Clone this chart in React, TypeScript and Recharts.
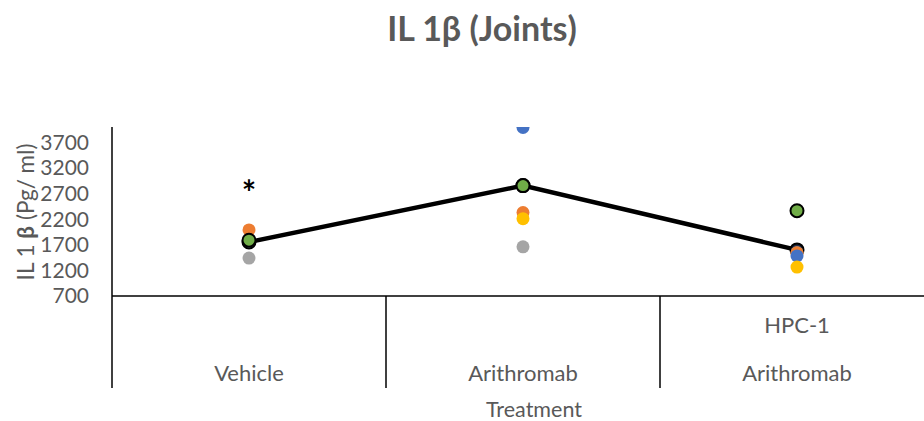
import { ComposedChart, Line, XAxis, YAxis } from 'recharts'

const categories = ['Vehicle', 'Arithromab', 'HPC-1 Arithromab']
const categoryLines = [['Vehicle'], ['Arithromab'], ['HPC-1', 'Arithromab']]

// group mean (black line) and the individual animals
const meanValues = [1755, 2856, 1600]
const grayValues = [1440, 1660, 1545]
const orangeValues = [1990, 2330, 1545]
const blueValues = [1775, 3990, 1482]
const yellowValues = [1780, 2210, 1265]
const greenValues = [1790, 2856, 2366]
// significance mark
const starValues = [2840, null, null]

const yTicks = [700, 1200, 1700, 2200, 2700, 3200, 3700]

const data = categories.map((cat, i) => ({
  cat,
  mean: meanValues[i],
  gray: grayValues[i],
  orange: orangeValues[i],
  blue: blueValues[i],
  yellow: yellowValues[i],
  green: greenValues[i],
  star: starValues[i],
}))

const FONT = 'Lato, "Liberation Sans", sans-serif'
const TEXT = '#595959'
const CHART_W = 934
const PLOT_LEFT = 112
const bandWidth = (CHART_W - PLOT_LEFT) / categories.length

const CategoryTick = (props: any) => {
  const { x, y, index } = props
  const lines = categoryLines[index] || []
  const left = x - bandWidth / 2
  return (
    <g>
      <line x1={left} y1={y} x2={left} y2={y + 92} stroke="#000" strokeWidth={1.5} />
      {lines.map((t, i) => (
        <text
          key={t}
          x={x}
          y={y + 85 - (lines.length - 1 - i) * 48}
          textAnchor="middle"
          fill={TEXT}
          fontSize={22}
          fontFamily={FONT}
        >
          {t}
        </text>
      ))}
    </g>
  )
}

const dotOf = (fill: string, stroke?: string) => (props: any) => {
  const { cx, cy, value } = props
  if (value == null || cx == null || cy == null) return <g key={props.key} />
  return (
    <circle
      key={props.key}
      cx={cx}
      cy={cy}
      r={6.5}
      fill={fill}
      stroke={stroke || 'none'}
      strokeWidth={stroke ? 2 : 0}
    />
  )
}

const starDot = (props: any) => {
  const { cx, cy, value } = props
  if (value == null || cx == null || cy == null) return <g key={props.key} />
  return (
    <text
      key={props.key}
      x={cx}
      y={cy + 19}
      textAnchor="middle"
      fontSize={34}
      fontWeight="bold"
      fontFamily={FONT}
      fill="#000"
    >
      *
    </text>
  )
}

const App = () => {
  return (
    <div
      style={{
        position: 'absolute',
        left: 0,
        top: 0,
        width: 924,
        height: 421,
        overflow: 'hidden',
        background: '#fff',
        fontFamily: FONT,
      }}
    >
      <div
        style={{
          position: 'absolute',
          left: 0,
          width: 964,
          top: 8,
          textAlign: 'center',
          fontSize: 34,
          fontWeight: 'bold',
          color: TEXT,
          lineHeight: '40px',
        }}
      >
        IL 1β (Joints)
      </div>
      <ComposedChart
        width={CHART_W}
        height={421}
        data={data}
        margin={{ top: 127, right: 0, bottom: 0, left: 0 }}
      >
        <XAxis
          dataKey="cat"
          scale="band"
          height={125}
          axisLine={{ stroke: '#000', strokeWidth: 1.5 }}
          tickLine={false}
          tickSize={0}
          tickMargin={0}
          interval={0}
          tick={<CategoryTick />}
          label={{
            content: (p: any) => {
              const vb = p.viewBox
              return (
                <text x={vb.x + 422} y={417} textAnchor="middle" fill={TEXT} fontSize={21.5} fontFamily={FONT}>
                  Treatment
                </text>
              )
            },
          }}
        />
        <YAxis
          width={PLOT_LEFT}
          domain={[700, 4000]}
          ticks={yTicks}
          interval={0}
          allowDataOverflow
          axisLine={{ stroke: '#000', strokeWidth: 1.5 }}
          tickLine={false}
          tickMargin={17}
          tick={{ fill: TEXT, fontSize: 21, fontFamily: FONT }}
          label={{
            content: () => (
              <text
                x={25}
                y={212}
                transform="rotate(-90, 25, 212)"
                textAnchor="middle"
                dominantBaseline="central"
                fill={TEXT}
                fontSize={22.5}
                fontFamily={FONT}
              >
                IL 1 <tspan fontWeight="bold">β</tspan> (Pg/ ml)
              </text>
            ),
          }}
        />
        <Line
          dataKey="mean"
          stroke="#000"
          strokeWidth={4.5}
          dot={dotOf('#1f2a44', '#000')}
          activeDot={false}
          isAnimationActive={false}
        />
        <Line dataKey="gray" stroke="none" dot={dotOf('#A5A5A5')} activeDot={false} isAnimationActive={false} />
        <Line dataKey="orange" stroke="none" dot={dotOf('#ED7D31')} activeDot={false} isAnimationActive={false} />
        <Line dataKey="blue" stroke="none" dot={dotOf('#4472C4')} activeDot={false} isAnimationActive={false} />
        <Line dataKey="yellow" stroke="none" dot={dotOf('#FFC000')} activeDot={false} isAnimationActive={false} />
        <Line
          dataKey="green"
          stroke="none"
          dot={dotOf('#70AD47', '#000')}
          activeDot={false}
          isAnimationActive={false}
        />
        <Line dataKey="star" stroke="none" dot={starDot} activeDot={false} isAnimationActive={false} />
      </ComposedChart>
    </div>
  )
}

export default App
